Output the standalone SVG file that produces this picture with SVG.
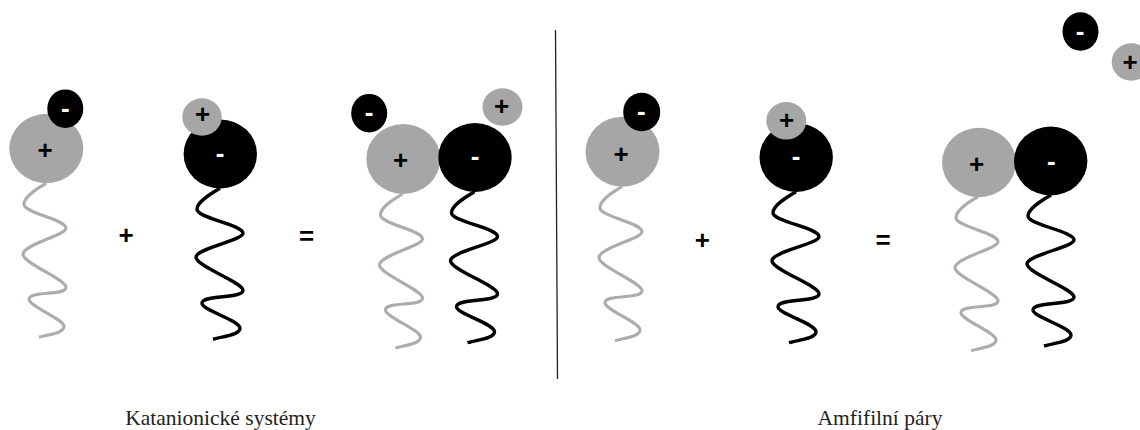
<svg xmlns="http://www.w3.org/2000/svg" width="1140" height="430" viewBox="0 0 1140 430">
<style>
.g{fill:#a6a6a6}.k{fill:#000}
.tg,.tk{fill:none;stroke-linecap:butt}
.tg{stroke:#afabab;stroke-width:3.100}.tk{stroke:#000;stroke-width:3.400}
.s{font-family:"Liberation Sans",Arial,sans-serif;font-weight:700;font-size:26px;text-anchor:middle}
.w{fill:#fff}.b{fill:#000}
.l{font-family:"Liberation Serif","Times New Roman",serif;font-size:21.500px;fill:#222;text-anchor:middle}
</style>
<defs>
<path id="tail-g" d="M0,0C-12,7 -22,14 -22,21C-22,30 20,36 20,45C20,52 -23,61 -23,71C-23,80 20,96 20,104C20,113 -17,107 -17,116C-17,123 18,136 18,143C18,150 3,151 -7,154"/>
<path id="tail-k" d="M0,0C-12,7 -23,14 -23,21C-23,30 23,36 23,45C23,52 -24,60 -24,69C-24,78 23,94 23,102C23,111 -18,106 -18,115C-18,122 20,132 20,140C20,147 3,148 -7,151"/>
</defs>
<g id="connectors">
<use href="#tail-g" class="tg" x="46" y="183.300"/>
<use href="#tail-k" class="tk" x="220" y="188.300"/>
<use href="#tail-g" class="tg" x="402.500" y="194"/>
<use href="#tail-k" class="tk" x="474.500" y="191.700"/>
<use href="#tail-g" class="tg" x="622" y="186.700"/>
<use href="#tail-k" class="tk" x="796" y="191.700"/>
<use href="#tail-g" class="tg" x="978" y="196.700"/>
<use href="#tail-k" class="tk" x="1051" y="195"/>
<path d="M555.500,30L557.500,379" stroke="#222" stroke-width="1.300" fill="none"/>
</g>
<g id="a-head"><ellipse class="g" cx="46.300" cy="148.500" rx="37" ry="34.700"/><text class="s b" x="45" y="158.600">+</text></g>
<g id="a-ion"><ellipse class="k" cx="65.300" cy="108.700" rx="18" ry="19.300"/><text class="s w" x="65.300" y="117">-</text></g>
<g id="b-head"><ellipse class="k" cx="220.300" cy="154" rx="36.700" ry="34.500"/><text class="s w" x="220" y="162.300">-</text></g>
<g id="b-ion"><ellipse class="g" cx="202" cy="117" rx="19.700" ry="18.700"/><text class="s b" x="202.700" y="123">+</text></g>
<g id="plus1"><text class="s b" x="126" y="244.300">+</text></g>
<g id="eq1"><text class="s b" x="306.700" y="245.300">=</text></g>
<g id="c-head"><ellipse class="g" cx="403.300" cy="159" rx="37" ry="35"/><text class="s b" x="400.700" y="168.600">+</text></g>
<g id="d-head"><ellipse class="k" cx="475" cy="157.500" rx="36.700" ry="34.500"/><text class="s w" x="475" y="165.300">-</text></g>
<g id="c-ion"><ellipse class="k" cx="369.200" cy="113.200" rx="18" ry="19.300"/><text class="s w" x="369" y="121">-</text></g>
<g id="d-ion"><ellipse class="g" cx="502.500" cy="107" rx="20" ry="18.700"/><text class="s b" x="501.700" y="115.300">+</text></g>
<g id="e-head"><ellipse class="g" cx="622.500" cy="151.700" rx="37" ry="35"/><text class="s b" x="621" y="162.600">+</text></g>
<g id="e-ion"><ellipse class="k" cx="641.700" cy="112" rx="18.500" ry="19.300"/><text class="s w" x="641.300" y="119.700">-</text></g>
<g id="f-head"><ellipse class="k" cx="796.200" cy="157.500" rx="36.700" ry="34.500"/><text class="s w" x="796" y="165.300">-</text></g>
<g id="f-ion"><ellipse class="g" cx="786.300" cy="120.800" rx="20" ry="18.800"/><text class="s b" x="786.700" y="129.300">+</text></g>
<g id="plus2"><text class="s b" x="702.300" y="249">+</text></g>
<g id="eq2"><text class="s b" x="883" y="248.500">=</text></g>
<g id="g-head"><ellipse class="g" cx="979" cy="162.500" rx="37" ry="34.700"/><text class="s b" x="976.700" y="172.600">+</text></g>
<g id="h-head"><ellipse class="k" cx="1050.700" cy="161" rx="36.700" ry="34.500"/><text class="s w" x="1051.300" y="169.700">-</text></g>
<g id="g-ion"><ellipse class="k" cx="1080.500" cy="31.500" rx="18" ry="19.300"/><text class="s w" x="1080" y="39.700">-</text></g>
<g id="h-ion"><ellipse class="g" cx="1131.400" cy="62" rx="19.700" ry="18.700"/><text class="s b" x="1130" y="71">+</text></g>
<g id="labels"><text class="l" x="220.500" y="425">Katanionické systémy</text><text class="l" x="880" y="425">Amfifilní páry</text></g>
</svg>
